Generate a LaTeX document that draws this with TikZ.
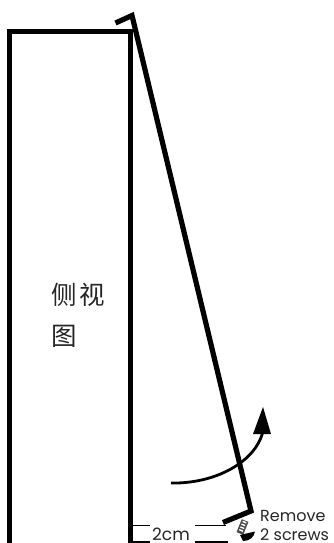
\documentclass[tikz,border=0pt]{standalone}
\usepackage{fontspec}
\setmainfont{Poppins}
\newfontfamily\cjk{Noto Sans CJK SC}
\tikzset{
  heavy/.style={line width=4.4pt,line join=miter,line cap=butt},
  thinrule/.style={line width=1.4pt},
  cjklabel/.style={font=\cjk\fontsize{25.5}{26}\selectfont,inner sep=0pt,anchor=center,text=black!85},
  note/.style={font=\fontsize{16}{16}\selectfont,inner sep=0pt,anchor=west,text=black!85}
}
\begin{document}
\begin{tikzpicture}[x=1pt,y=-1pt]
\useasboundingbox (0,0) rectangle (334,543);
% cabinet
\draw[heavy] (9.5,545) -- (9.5,31.5) -- (130.5,31.5) -- (130.5,545);
% panel
\coordinate (top) at (132,15.5);
\coordinate (corner) at (251,511);
\draw[line width=5.2pt,line join=miter] (115.5,23) -- (top) -- (corner) -- (223,522.5);
% text
\node[cjklabel] (c1) at (64,295) {侧};
\node[cjklabel] (c2) at (92,295) {视};
\node[cjklabel] (c3) at (64,336) {图};
% swing arrow
\coordinate (s0) at (171,483);
\coordinate (s1) at (263,407);
\draw[line width=2.8pt] (s0) .. controls (215,484) and (256,462) .. (263,431);
\fill (s1) -- (271,434) -- (253,434) -- cycle;
% dimension
\node[font=\fontsize{17}{17}\selectfont,inner sep=0pt,text=black!85] (dim) at (171,534) {2cm};
\coordinate (a1) at (132,525.5);
\coordinate (a2) at (150,525.5);
\coordinate (a3) at (195,525.5);
\coordinate (a4) at (226,525.5);
\coordinate (b1) at (132,541.8);
\coordinate (b2) at (150,541.8);
\coordinate (b3) at (195,541.8);
\coordinate (b4) at (228,541.8);
\draw[thinrule] (a1) -- (a2) (a3) -- (a4) (b1) -- (b2) (b3) -- (b4);
% screw
\begin{scope}[shift={(242.5,527)},rotate=-22]
\fill[black!70] (-3.6,-7) rectangle (3.6,7);
\foreach \yy in {-6,-3,0,3}{\fill[white] (-2,\yy) rectangle (2,\yy+1.4);}
\end{scope}
\fill (240,535) -- (255,531.5) .. controls (254,537) and (250,541) .. (243,541) -- cycle;
% note
\node[note] (n1) at (260,515.5) {Remove};
\node[note] (n2) at (260,534.5) {2 screws};
\end{tikzpicture}
\end{document}
